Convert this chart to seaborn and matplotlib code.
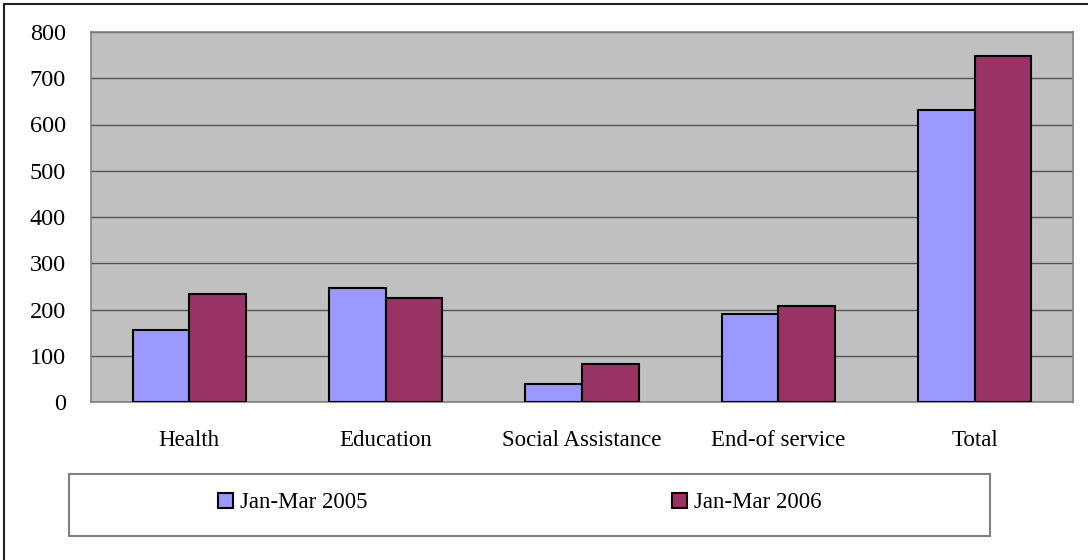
import matplotlib
matplotlib.use("Agg")
import matplotlib.pyplot as plt
import seaborn as sns
import pandas as pd
from matplotlib.patches import Rectangle, Patch
from matplotlib.lines import Line2D

categories = ["Health", "Education", "Social Assistance", "End-of service", "Total"]
series_names = ["Jan-Mar 2005", "Jan-Mar 2006"]
values_2005 = [155, 246, 39, 190, 631]
values_2006 = [234, 225, 82, 207, 748]
y_ticks = [0, 100, 200, 300, 400, 500, 600, 700, 800]
colors = ["#9999FF", "#993366"]

df = pd.DataFrame({
    "category": categories * 2,
    "series": [series_names[0]] * len(categories) + [series_names[1]] * len(categories),
    "value": values_2005 + values_2006,
})

sns.set_theme(style="white")
plt.rcParams["font.family"] = ["Liberation Serif", "DejaVu Serif"]

W, H = 1088, 560
fig = plt.figure(figsize=(W / 100, H / 100), dpi=100)
ax = fig.add_axes([91 / W, 158 / H, 982 / W, 370 / H])

sns.barplot(data=df, x="category", y="value", hue="series", order=categories,
            hue_order=series_names, palette=colors, width=0.576, ax=ax,
            edgecolor="black", linewidth=1.5, saturation=1, legend=False, zorder=3)

ax.set_facecolor("#C0C0C0")
ax.set_ylim(0, 800)
ax.set_xlim(-0.5, len(categories) - 0.5)
ax.set_yticks(y_ticks)
ax.set_yticklabels([str(v) for v in y_ticks], fontsize=17.5)
ax.yaxis.grid(True, color="#555555", linewidth=1, zorder=0)
ax.set_axisbelow(True)
ax.set_xlabel("")
ax.set_ylabel("")
ax.tick_params(axis="x", which="major", length=0, labelsize=16.5, pad=20)
ax.set_xticks([i - 0.5 for i in range(len(categories) + 1)], minor=True)
ax.tick_params(axis="x", which="minor", length=7, color="#808080", width=1, direction="out")
ax.tick_params(axis="y", which="major", length=6, color="#808080", width=1, direction="out", pad=12)
for s in ["left", "bottom", "right", "top"]:
    ax.spines[s].set_visible(True)
    ax.spines[s].set_color("#808080")
    ax.spines[s].set_linewidth(1.2)
for lab in ax.get_xticklabels() + ax.get_yticklabels():
    lab.set_color("black")

# figure border (left and top visible)
fig.add_artist(Line2D([3.5 / W, 3.5 / W], [0, (H - 3.5) / H], transform=fig.transFigure,
                      color="#222222", linewidth=1.5))
fig.add_artist(Line2D([3.5 / W, 1], [(H - 3.5) / H, (H - 3.5) / H], transform=fig.transFigure,
                      color="#222222", linewidth=1.5))
# legend box
fig.patches.append(Rectangle((69 / W, (H - 536) / H), (990 - 69) / W, (536 - 474) / H,
                             transform=fig.transFigure, fill=False,
                             edgecolor="#808080", linewidth=1.5))

fs = 16.5
for name, c, x0 in zip(series_names, colors, [218, 672]):
    h = Patch(facecolor=c, edgecolor="black", linewidth=1.5)
    fig.legend([h], [name], loc="center left", bbox_to_anchor=(x0 / W, (H - 503) / H),
               frameon=False, fontsize=fs, handlelength=0.65, handleheight=0.61,
               handletextpad=0.3, borderpad=0, borderaxespad=0, labelcolor="black")

fig.savefig("out.png", dpi=100)
